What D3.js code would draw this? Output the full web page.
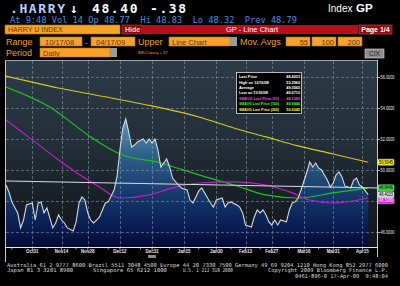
<!DOCTYPE html>
<html>
<head>
<meta charset="utf-8">
<script src="https://cdn.jsdelivr.net/npm/d3@7"></script>
<style>
  body { margin: 0; background: #000; }
  svg { display: block; }
</style>
</head>
<body>
<svg id="chart" width="400" height="286"></svg>
<script>
// --- data (trading-day index from 10/17/08) ---
const priceDays = [0,1,2,4,5,6,7,9,10,11,12,13,14,16,17,18,19,20,21,23,24,25,26,27,28,29,30,31,32,33,34,35,37,38,39,40,41,42,43,44,45,47,48,49,50,51,52,53,55,56,57,59,60,62,63,64,65,66,67,69,70,71,72,74,75,76,77,79,80,81,82,84,85,86,87,88,89,90,91,92,93,94,96,97,98,99,100,101,103,104,105,106,107,108,110,111,112,113,114,115,116,118,119,120,121,122,123,124];
const priceValues = [49.03,48.58,47.94,47.23,46.26,46.77,47.74,47.87,46.77,47.87,47.94,47.23,47.55,46.26,46.58,47.10,46.77,46.58,46.26,46.07,46.65,47.87,48.26,48.06,47.23,46.77,46.58,46.77,46.97,47.42,47.87,47.94,48.71,49.55,51.29,52.71,53.30,52.45,51.48,51.61,51.81,52.00,51.74,52.00,51.74,52.00,51.29,50.19,50.71,50.19,49.48,49.03,48.84,48.71,48.06,47.87,48.26,48.65,48.84,48.19,47.87,47.61,48.06,48.19,47.61,47.87,47.94,47.74,47.61,47.23,46.45,46.32,46.97,47.42,47.23,47.42,47.10,46.65,46.45,46.77,46.45,46.77,46.65,47.42,47.87,47.94,48.19,48.71,49.87,50.52,50.19,50.45,50.13,50.00,49.35,48.90,49.16,49.68,49.87,49.55,48.97,48.84,49.35,49.48,49.03,48.90,48.65,48.40];

const ma55Days = [0,9,18,27,32,39,49,57,66,78,89,98,104,112,124];
const ma55Values = [53.23,51.94,50.65,49.48,48.90,48.19,48.39,48.84,49.16,49.23,49.03,48.52,48.06,47.87,48.19];

const ma100Days = [0,15,29,39,53,66,78,89,100,112,124];
const ma100Values = [55.35,54.06,52.13,51.03,50.45,49.68,49.03,48.39,48.19,48.52,48.84];

const ma200Days = [0,18,38,50,66,78,89,100,112,124];
const ma200Values = [56.06,55.29,54.58,54.13,53.42,52.71,52.13,51.55,51.03,50.50];

const trendDays = [0, 127];
const trendValues = [49.29, 48.84];

const yTicks = [56, 54, 52, 50, 48, 46];
const xTickDays = [9, 19, 28, 39, 50, 61, 72, 82, 91, 102, 112, 122];
const xTickLabels = ["Oct31","Nov14","Nov28","Dec12","Dec31","Jan15","Jan30","Feb13","Feb27","Mar16","Mar31","Apr15"];
const xMinorDays = [2, 14, 24, 35, 46, 56, 66, 77, 87, 97, 107, 117];

const legendLabels = ["Last Price", "High on 12/16/08", "Average", "Low on 11/20/08",
  "SMAVG Last Price (55)", "SMAVG Last Price (100)", "SMAVG Last Price (200)"];
const legendValues = ["48.4023", "53.2960", "49.0565", "46.0710", "48.1989", "48.8446", "50.5045"];
const legendColors = ["#fff", "#fff", "#fff", "#fff", "#ff33ff", "#33ff33", "#ffff33"];

const markerValues = [50.5045, 48.8446, 48.4023, 48.1989];
const markerFills = ["#f2e600", "#2fd62f", "#d8d8d8", "#e020e0"];
const markerText = ["#000", "#000", "#000", "#fff"];

const footerLines = [
  "Australia 61 2 9777 8600 Brazil 5511 3048 4500 Europe 44 20 7330 7500 Germany 49 69 9204 1210 Hong Kong 852 2977 6000"
];

// --- scales ---
const x = d3.scaleLinear().domain([0, 127]).range([6, 377]);
const y = d3.scaleLinear().domain([45.03, 57.03]).range([247, 61]);

const svg = d3.select("#chart");
svg.append("rect").attr("width", 400).attr("height", 286).attr("fill", "#000");

const defs = svg.append("defs");
const bg = defs.append("linearGradient").attr("id", "bg")
  .attr("gradientUnits", "userSpaceOnUse").attr("x1", 0).attr("x2", 0).attr("y1", 61).attr("y2", 247);
[["0", "#2d3c48"], ["0.45", "#222e38"], ["0.75", "#181f26"], ["1", "#101418"]]
  .forEach(([o, c]) => bg.append("stop").attr("offset", o).attr("stop-color", c));
const ar = defs.append("linearGradient").attr("id", "areaFill")
  .attr("gradientUnits", "userSpaceOnUse").attr("x1", 0).attr("x2", 0).attr("y1", 115).attr("y2", 247);
[["0", "#6a9cbc"], ["0.3", "#2f6088"], ["0.6", "#163a6c"], ["0.85", "#0a1c52"], ["1", "#040a33"]]
  .forEach(([o, c]) => ar.append("stop").attr("offset", o).attr("stop-color", c));
defs.append("clipPath").attr("id", "plotClip").append("rect")
  .attr("x", 6).attr("y", 61).attr("width", 371).attr("height", 186);

// --- header ---
const mono = "DejaVu Sans Mono, monospace";
const sans = "Liberation Sans, Arial, sans-serif";
const head = svg.append("g");
const big = [[".HARRY", 10, "#b8d0ff"], ["\u2193", 70, "#fff"], ["48.40", 92, "#fff"], ["-.38", 150, "#fff"]];
big.forEach(([t, xx, c]) => head.append("text").attr("x", xx).attr("y", 12.5)
  .attr("font-family", mono).attr("font-weight", "bold").attr("font-size", 13)
  .attr("letter-spacing", 1.6).attr("fill", c).text(t));
head.append("text").attr("x", 328).attr("y", 12).attr("font-family", sans)
  .attr("font-size", 10).attr("fill", "#fff").text("Index");
head.append("text").attr("x", 356).attr("y", 12).attr("font-family", sans).attr("font-weight", "bold")
  .attr("font-size", 11.5).attr("fill", "#fff").text("GP");

head.append("text").attr("x", 10).attr("y", 22.5)
  .attr("font-family", mono).attr("font-size", 8.6).attr("fill", "#3d90e6")
  .style("white-space", "pre").attr("textLength", 287).attr("lengthAdjust", "spacingAndGlyphs")
  .text("At 9:48 Vol 14 Op 48.77  Hi 48.83  Lo 48.32  Prev 48.79");

function box(xx, yy, w, h, fill, stroke) {
  head.append("rect").attr("x", xx).attr("y", yy).attr("width", w).attr("height", h)
    .attr("fill", fill).attr("stroke", stroke || "none").attr("stroke-width", 0.6);
}
function label(t, xx, yy, size, color, anchor, weight) {
  head.append("text").attr("x", xx).attr("y", yy).attr("font-family", sans)
    .attr("font-size", size).attr("fill", color).attr("text-anchor", anchor || "start")
    .attr("font-weight", weight || "normal").text(t);
}
const orange = "#f7a22a", ink = "#6a3800", amber = "#f0a020";

box(5, 25, 115, 9, orange, "#c07010");
label("HARRY U INDEX", 8, 32.3, 7, ink);
box(122, 25, 20, 9, "#8c0a0a", "#d04040");
label("Hide", 125, 32.3, 7, "#f0d0d0", "start", "bold");
box(142, 25, 216, 9, "#b80f1a");
label("GP - Line Chart", 252, 32.3, 7.5, "#fff", "middle");
box(359, 25, 33, 9, "#8a0a12", "#e05050");
label("Page 1/4", 375.5, 32.3, 7, "#fff", "middle", "bold");

label("Range", 6, 45, 9, amber);
box(40, 37, 42, 9, orange, "#c07010");
label("10/17/08", 45, 44.5, 7.5, ink);
label("-", 85, 44.5, 8, amber);
box(91, 37, 44, 9, orange, "#c07010");
label("04/17/09", 96, 44.5, 7.5, ink);
label("Upper", 138, 45, 9, amber);
box(169, 37, 61, 9, orange, "#c07010");
box(230, 37, 7, 9, "#9a9a9a");
label("Line Chart", 172, 44.5, 7.5, ink);
label("Mov. Avgs", 240, 45, 9, amber);
[["55", 286], ["100", 312], ["200", 338]].forEach(([t, xx]) => {
  box(xx, 37, 24, 9, orange, "#c07010");
  label(t, xx + 22, 44.5, 7.5, ink, "end");
});

label("Period", 6, 56, 9, amber);
box(40, 48, 70, 9, orange, "#c07010");
box(110, 48, 7, 9, "#9a9a9a");
label("Daily", 43, 55.5, 7.5, ink);
label("BIR.Curncy + 37", 138, 54, 4, amber);
box(365, 49, 19, 9, "#8c8c8c", "#ddd");
label("CIX", 374.5, 56, 6.5, "#222", "middle");

// --- plot ---
const plot = svg.append("g").attr("clip-path", "url(#plotClip)");
plot.append("rect").attr("x", 6).attr("y", 61).attr("width", 371).attr("height", 186).attr("fill", "url(#bg)");

const pts = priceDays.map((d, i) => [d, priceValues[i]]);
plot.append("path").datum(pts)
  .attr("fill", "url(#areaFill)")
  .attr("d", d3.area().x(d => x(d[0])).y0(247).y1(d => y(d[1])));

const grid = plot.append("g").attr("stroke", "#8a96a2").attr("stroke-width", 0.8)
  .attr("stroke-dasharray", "3,2").attr("opacity", 0.75);
grid.selectAll("line.h").data(yTicks).join("line")
  .attr("x1", 6).attr("x2", 377).attr("y1", d => y(d) + 0.5).attr("y2", d => y(d) + 0.5);
grid.selectAll("line.v").data(xTickDays).join("line").attr("class", "v")
  .attr("y1", 61).attr("y2", 247).attr("x1", d => Math.round(x(d)) + 0.5).attr("x2", d => Math.round(x(d)) + 0.5);

function drawLine(days, vals, color, w, curve) {
  plot.append("path").datum(days.map((d, i) => [d, vals[i]]))
    .attr("fill", "none").attr("stroke", color).attr("stroke-width", w)
    .attr("d", d3.line().x(d => x(d[0])).y(d => y(d[1])).curve(curve || d3.curveLinear));
}
drawLine(ma200Days, ma200Values, "#d6c61e", 1.2, d3.curveMonotoneX);
drawLine(ma100Days, ma100Values, "#1fc21f", 1.2, d3.curveMonotoneX);
drawLine(ma55Days, ma55Values, "#c21fc8", 1.2, d3.curveMonotoneX);
drawLine(trendDays, trendValues, "#d8dce0", 1);
drawLine(priceDays, priceValues, "#d4dae2", 1.1);

// legend box
const lg = svg.append("g");
lg.append("rect").attr("x", 236.5).attr("y", 72.5).attr("width", 65).attr("height", 41)
  .attr("fill", "#000").attr("stroke", "#e0e0e0").attr("stroke-width", 0.8);
legendLabels.forEach((t, i) => {
  const yy = 78.2 + i * 5.4;
  const lt = lg.append("text").attr("x", 239).attr("y", yy).attr("font-family", sans).attr("font-size", 3.8)
    .attr("font-weight", "bold").attr("fill", legendColors[i]).text(t);
  if (lt.node().getComputedTextLength() > 40) {
    lt.attr("textLength", 40).attr("lengthAdjust", "spacingAndGlyphs");
  }
  lg.append("text").attr("x", 300).attr("y", yy).attr("font-family", sans).attr("font-size", 3.8)
    .attr("font-weight", "bold").attr("text-anchor", "end").attr("fill", legendColors[i])
    .text(legendValues[i]);
});

// frame
const frame = svg.append("g").attr("stroke", "#c8c8c8").attr("stroke-width", 1);
frame.append("line").attr("x1", 5.5).attr("x2", 5.5).attr("y1", 61).attr("y2", 262);
frame.append("line").attr("x1", 5).attr("x2", 378).attr("y1", 60.5).attr("y2", 60.5).attr("stroke", "#9aa4ae");
frame.append("line").attr("x1", 377.5).attr("x2", 377.5).attr("y1", 60).attr("y2", 257);
frame.append("line").attr("x1", 5).attr("x2", 378).attr("y1", 247.5).attr("y2", 247.5).attr("stroke", "#e8e8e8");

// right axis
const ra = svg.append("g");
ra.selectAll("line").data(yTicks).join("line")
  .attr("x1", 377).attr("x2", 380).attr("y1", d => y(d) + 0.5).attr("y2", d => y(d) + 0.5)
  .attr("stroke", "#ddd").attr("stroke-width", 0.8);
ra.selectAll("text").data(yTicks).join("text")
  .attr("x", 380.5).attr("y", d => y(d) + 2).attr("font-family", sans).attr("font-size", 5)
  .attr("textLength", 14).attr("lengthAdjust", "spacingAndGlyphs")
  .attr("fill", "#eee").text(d => d3.format(".4f")(d));

// value markers with simple collision push-down
let lastBottom = -Infinity;
const marks = markerValues.map((v, i) => ({ v, i, cy: y(v) })).sort((a, b) => a.cy - b.cy);
marks.forEach(m => {
  let top = m.cy - 3;
  if (top < lastBottom) top = lastBottom;
  lastBottom = top + 6;
  ra.append("rect").attr("x", 378).attr("y", top).attr("width", 16).attr("height", 6)
    .attr("rx", 1).attr("fill", markerFills[m.i]).attr("stroke", "#fff").attr("stroke-width", 0.4);
  ra.append("text").attr("x", 379).attr("y", top + 4.6).attr("font-family", sans).attr("font-size", 5)
    .attr("textLength", 14).attr("lengthAdjust", "spacingAndGlyphs")
    .attr("fill", markerText[m.i]).text(d3.format(".4f")(m.v));
});

// x axis
const xa = svg.append("g");
xa.selectAll("line.maj").data(xTickDays).join("line").attr("class", "maj")
  .attr("x1", d => x(d)).attr("x2", d => x(d)).attr("y1", 248).attr("y2", 250)
  .attr("stroke", "#ddd").attr("stroke-width", 0.7);
xa.selectAll("line.min").data(xMinorDays).join("line").attr("class", "min")
  .attr("x1", d => x(d)).attr("x2", d => x(d)).attr("y1", 248).attr("y2", 249.5)
  .attr("stroke", "#ddd").attr("stroke-width", 0.7);
xa.selectAll("text").data(xTickDays).join("text")
  .attr("x", d => x(d)).attr("y", 253).attr("text-anchor", "middle")
  .attr("font-family", sans).attr("font-size", 4.5).attr("font-weight", "bold")
  .attr("fill", "#e8e8e8").text((d, i) => xTickLabels[i]);
xa.append("rect").attr("x", 148).attr("y", 255).attr("width", 8).attr("height", 3).attr("fill", "#8a8a8a");

// footer
const ft = svg.append("g").attr("font-family", mono).attr("font-size", 5.3).attr("fill", "#dcdcdc");
ft.append("text").attr("x", 7).attr("y", 266.5).attr("textLength", 381)
  .attr("lengthAdjust", "spacingAndGlyphs").text(footerLines[0]);
[["Japan 81 3 3201 8900", 7, 66], ["Singapore 65 6212 1000", 93, 74], ["U.S. 1 212 318 2000", 183, 50],
 ["Copyright 2009 Bloomberg Finance L.P.", 268, 120]].forEach(([t, xx, w]) =>
  ft.append("text").attr("x", xx).attr("y", 271.8).attr("textLength", w)
    .attr("lengthAdjust", "spacingAndGlyphs").text(t));
ft.append("text").attr("x", 295).attr("y", 278).attr("textLength", 93)
  .attr("lengthAdjust", "spacingAndGlyphs").style("white-space", "pre").text("0461-896-0 17-Apr-09  9:48:04");
</script>
</body>
</html>
